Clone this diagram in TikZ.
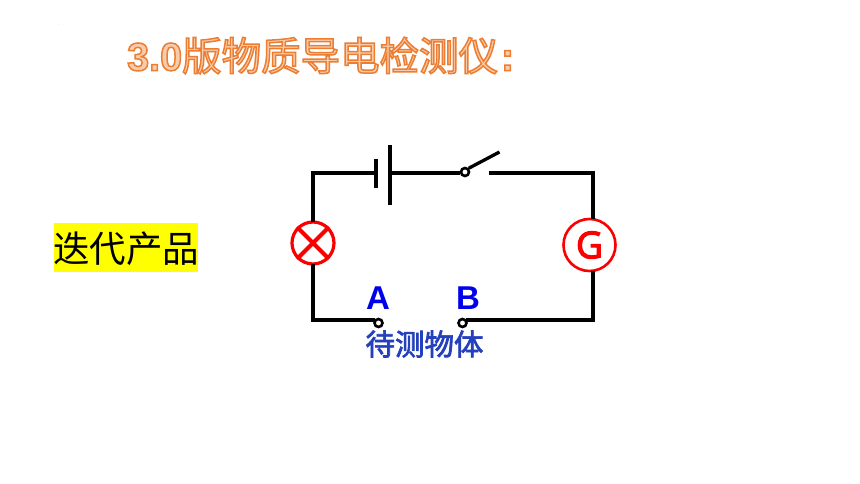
\documentclass[tikz,border=0pt]{standalone}
\usepackage{fontspec}
\setmainfont{Liberation Sans}
\newfontfamily\cjk{Noto Sans CJK SC}
\newfontfamily\cjkfat{Noto Sans CJK SC}
\newfontfamily\latfat{Liberation Sans}
\newfontfamily\gfont{Open Sans}
\definecolor{labelblue}{RGB}{0,0,235}
\definecolor{markyellow}{RGB}{255,255,0}
\definecolor{lampred}{RGB}{250,0,0}
\newcommand{\outlined}{\special{pdf:code 2 Tr 1.5 w 0.93 0.49 0.19 RG 0.97 0.80 0.68 rg}}
\newcommand{\objstroke}{\special{pdf:code 2 Tr 0.7 w 0.14 0.25 0.74 RG 0.14 0.25 0.74 rg}}
\newcommand{\gstroke}{\special{pdf:code 2 Tr 1.2 w 0.98 0 0 RG 0.98 0 0 rg}}
\newcommand{\plaintext}{\special{pdf:code 0 Tr}}
\tikzset{
  wire/.style={line width=3.3pt,black},
  plate/.style={line width=3.3pt,black},
  post/.style={circle,draw=black,fill=white,line width=2.6pt,inner sep=0pt,minimum size=8pt},
  meter/.style={circle,draw=lampred,fill=white,inner sep=0pt,line width=2.6pt},
  terminal/.style={font=\bfseries\fontsize{33}{33}\selectfont,text=labelblue,inner sep=0pt},
}
\begin{document}
\begin{tikzpicture}[x=1pt,y=-1pt]
\useasboundingbox (0,0) rectangle (860,484);
\fill[white] (0,0) rectangle (860,484);
\node[inner sep=0pt,font=\fontsize{3}{3}\selectfont,text=black!70] (speck) at (59,25) {.};
% title
\node[anchor=west,inner sep=0pt] (title) at (127,55.5)
  {\fontsize{39.5}{40}\selectfont\outlined{\latfat\bfseries 3.0}{\cjkfat 版物质导电检测仪}\kern3pt{\latfat\bfseries :}\plaintext};
% marked label
\node[fill=markyellow,minimum width=144pt,minimum height=49pt,inner sep=0pt] (iter) at (126,247.5) {};
\node[inner sep=0pt,font=\cjk\fontsize{36.5}{36}\selectfont] (itertext) at (126,249) {迭代产品};
% corners and joints
\coordinate (tl) at (313,173);
\coordinate (tr) at (593,173);
\coordinate (bl) at (313,320);
\coordinate (br) at (593,320);
\coordinate (shortp) at (376,173);
\coordinate (longp) at (390,173);
\coordinate (swend) at (491,173);
\coordinate (lever) at (499.5,152);
\node[post] (sw) at (465,172) {};
\node[meter,line width=3.2pt,minimum size=42pt] (lamp) at (313,243) {};
\node[meter,minimum size=52pt,font=\gfont\fontsize{37}{37}\selectfont,text=lampred] (gauge) at (589.5,245) {\gstroke G\plaintext};
\node[post] (a) at (378.5,323) {};
\node[post] (b) at (462.5,323) {};
% wires
\draw[wire,line cap=rect] (lamp.north) -- (tl) -- (shortp);
\draw[wire] (longp) -- (longp -| sw.west);
\draw[wire] (sw.45) -- (lever);
\draw[wire,line cap=rect] (swend) -- (tr) -- (gauge.north -| tr);
\draw[wire,line cap=rect] (gauge.south -| tr) -- (br) -- (br -| b.east);
\draw[wire,line cap=rect] (lamp.south) -- (bl) -- (bl -| a.west);
% battery
\draw[plate] (376,159) -- (shortp) -- (376,188);
\draw[plate] (390,145) -- (longp) -- (390,205);
% lamp cross
\draw[lampred,line width=4pt] (lamp.45) -- (lamp.225);
\draw[lampred,line width=4pt] (lamp.135) -- (lamp.315);
% labels
\node[terminal] (la) at (378,298.5) {A};
\node[terminal] (lb) at (468,298.5) {B};
\node[inner sep=0pt,font=\cjk\fontsize{29.5}{30}\selectfont] (obj) at (424.5,344) {\objstroke 待测物体\plaintext};
\end{tikzpicture}
\end{document}
